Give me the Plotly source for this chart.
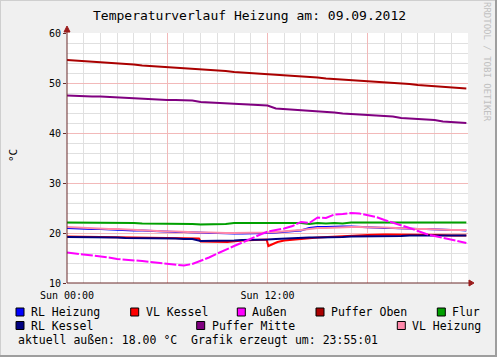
import plotly.graph_objects as go

# ---------------- data ----------------
hours = [0, 0.5, 1, 1.5, 2, 2.5, 3, 3.5, 4, 4.5, 5, 5.5, 6, 6.5, 7, 7.5, 8, 8.5, 9, 9.5,
         10, 10.5, 11, 11.5, 12, 12.5, 13, 13.5, 14, 14.5, 15, 15.5, 16, 16.5, 17, 17.5,
         18, 18.5, 19, 19.5, 20, 20.5, 21, 21.5, 22, 22.5, 23, 23.5, 23.9]

puffer_oben = [54.6, 54.5, 54.4, 54.2, 54.1, 54.0, 53.9, 53.8, 53.7, 53.5, 53.4, 53.3, 53.2, 53.1,
               52.9, 52.8, 52.7, 52.6, 52.5, 52.4, 52.2, 52.1, 52.0, 51.9, 51.8, 51.6, 51.5, 51.4,
               51.3, 51.2, 51.1, 50.9, 50.8, 50.7, 50.6, 50.5, 50.3, 50.2, 50.1, 50.0, 49.9, 49.8,
               49.6, 49.5, 49.4, 49.3, 49.2, 49.0, 48.9]

puffer_mitte = [47.5, 47.4, 47.4, 47.3, 47.3, 47.2, 47.1, 47.1, 47.0, 46.9, 46.8, 46.7, 46.6, 46.6,
                46.5, 46.5, 46.2, 46.1, 46.0, 45.9, 45.9, 45.8, 45.7, 45.6, 45.5, 44.9, 44.8, 44.7,
                44.6, 44.5, 44.4, 44.2, 44.1, 43.9, 43.8, 43.6, 43.5, 43.4, 43.3, 43.3, 43.0, 42.9,
                42.8, 42.7, 42.6, 42.3, 42.2, 42.1, 42.0]

flur = [22.1, 22.1, 22.1, 22.1, 22.1, 22.0, 22.0, 22.0, 22.0, 21.9, 21.9, 21.9, 21.9, 21.9,
        21.8, 21.8, 21.7, 21.7, 21.7, 21.8, 22.0, 22.0, 22.0, 22.0, 22.0, 22.0, 22.0, 21.9,
        22.0, 21.8, 22.0, 21.9, 22.0, 21.9, 22.1, 22.1, 22.1, 22.1, 22.1, 22.1, 22.1, 22.1,
        22.1, 22.1, 22.1, 22.1, 22.1, 22.1, 22.1]

rl_heizung = [21.0, 20.9, 20.9, 20.8, 20.8, 20.7, 20.7, 20.6, 20.5, 20.5, 20.4, 20.4, 20.3, 20.2,
              20.2, 20.1, 20.0, 20.0, 20.0, 19.9, 19.9, 19.9, 19.9, 19.9, 20.0, 20.1, 20.2, 20.3,
              20.5, 21.0, 21.2, 21.2, 21.3, 21.3, 21.3, 21.2, 21.1, 21.1, 21.0, 21.0, 20.9, 20.9,
              20.8, 20.8, 20.7, 20.7, 20.6, 20.6, 20.5]

vl_heizung = [21.2, 21.1, 21.0, 21.0, 20.9, 20.8, 20.8, 20.7, 20.6, 20.6, 20.5, 20.4, 20.3, 20.3,
              20.2, 20.2, 20.1, 20.1, 20.0, 20.0, 20.0, 20.0, 20.0, 20.0, 20.1, 20.2, 20.3, 20.4,
              20.6, 20.8, 21.0, 21.0, 21.1, 21.1, 21.2, 21.2, 21.1, 21.1, 21.1, 21.0, 20.9, 20.9,
              20.8, 20.8, 20.7, 20.7, 20.6, 20.6, 20.6]

rl_kessel = [19.2, 19.2, 19.2, 19.1, 19.1, 19.1, 19.1, 19.0, 19.0, 19.0, 19.0, 18.9, 18.9, 18.9,
             18.8, 18.8, 18.4, 18.4, 18.4, 18.4, 18.5, 18.6, 18.6, 18.7, 18.7, 18.8, 18.9, 19.0,
             19.0, 19.1, 19.1, 19.1, 19.2, 19.2, 19.3, 19.3, 19.3, 19.4, 19.4, 19.4, 19.4, 19.5,
             19.5, 19.5, 19.5, 19.5, 19.5, 19.5, 19.5]

aussen = [16.1, 15.9, 15.7, 15.5, 15.4, 15.1, 14.8, 14.7, 14.6, 14.4, 14.2, 14.0, 13.8, 13.6,
          13.5, 13.8, 14.4, 15.1, 15.9, 16.7, 17.4, 18.1, 18.9, 19.6, 20.3, 20.6, 20.9, 21.4,
          22.2, 22.0, 23.1, 23.0, 23.7, 23.8, 24.0, 23.9, 23.6, 23.2, 22.6, 22.1, 21.6, 21.0,
          20.4, 19.8, 19.4, 19.0, 18.6, 18.2, 18.0]

vl_kessel_hours = [0, 2, 4, 6, 7.9, 8.0, 9.6, 10.5, 11.5, 11.95, 12.05, 12.3, 12.6, 13, 13.5,
                   14, 15, 16, 17, 18, 19, 19.5, 20, 21, 22, 23, 23.9]
vl_kessel = [19.3, 19.2, 19.1, 19.0, 18.9, 18.3, 18.2, 18.5, 18.7, 18.7, 17.4, 17.8, 18.2, 18.5,
             18.7, 18.8, 19.1, 19.3, 19.5, 19.6, 19.7, 19.7, 19.6, 19.6, 19.6, 19.5, 19.5]

title_text = "Temperaturverlauf Heizung am: 09.09.2012"
y_label = "°C"
x_tickvals = [0, 6, 12, 18]
x_ticktext = ["Sun 00:00", "", "Sun 12:00", ""]
footer = "aktuell außen: 18.00 °C  Grafik erzeugt um: 23:55:01"

legend_row1 = ["RL Heizung", "VL Kessel", "Außen", "Puffer Oben", "Flur"]
legend_row2 = ["RL Kessel", "Puffer Mitte", "VL Heizung"]

colors = {
    "RL Heizung": "#0000FF",
    "VL Kessel": "#FF0000",
    "Außen": "#FF00FF",
    "Puffer Oben": "#AA0000",
    "Flur": "#00A000",
    "RL Kessel": "#000080",
    "Puffer Mitte": "#800080",
    "VL Heizung": "#FF88AA",
}

# ---------------- geometry helpers ----------------
W, H = 497, 357
L, R, T, B = 67, 29, 33, 74
PW, PH = W - L - R, H - T - B


def px(x):
    return (x - L) / PW


def py(y):
    return (H - B - y) / PH


FONT = "DejaVu Sans Mono"

fig = go.Figure()

series = [
    ("Puffer Oben", hours, puffer_oben, "solid"),
    ("Puffer Mitte", hours, puffer_mitte, "solid"),
    ("Flur", hours, flur, "solid"),
    ("RL Heizung", hours, rl_heizung, "solid"),
    ("VL Heizung", hours, vl_heizung, "solid"),
    ("VL Kessel", vl_kessel_hours, vl_kessel, "solid"),
    ("RL Kessel", hours, rl_kessel, "solid"),
    ("Außen", hours, aussen, "12px,2px"),
]
for name, xs, ys, dash in series:
    fig.add_trace(go.Scatter(x=xs, y=ys, mode="lines", name=name,
                             line=dict(color=colors[name], width=2, dash=dash),
                             showlegend=False, hoverinfo="skip"))

axis_col = "#6b2b2b"
arrow_col = "#9b1c1c"

fig.update_layout(
    width=W, height=H,
    margin=dict(l=L, r=R, t=T, b=B, pad=0),
    paper_bgcolor="#F0F0F0",
    plot_bgcolor="#FFFFFF",
    font=dict(family=FONT, size=10, color="#000000"),
    showlegend=False,
    xaxis=dict(
        range=[0, 24], tickmode="array", tickvals=x_tickvals, ticktext=x_ticktext,
        showgrid=True, gridcolor="#F2B9B9", gridwidth=1,
        minor=dict(tickmode="linear", tick0=0, dtick=1, showgrid=True,
                   gridcolor="#E0E0E0", gridwidth=1),
        zeroline=False, showline=False, ticks="outside", ticklen=3,
        tickcolor="rgba(0,0,0,0)",
        tickfont=dict(family=FONT, size=10),
        fixedrange=True,
    ),
    yaxis=dict(
        range=[10, 60], tickmode="linear", tick0=10, dtick=10,
        showgrid=True, gridcolor="#F2B9B9", gridwidth=1,
        minor=dict(tickmode="linear", tick0=10, dtick=2, showgrid=True,
                   gridcolor="#E0E0E0", gridwidth=1),
        zeroline=False, showline=False, ticks="outside", ticklen=3,
        tickcolor=axis_col, tickfont=dict(family=FONT, size=10),
        fixedrange=True,
    ),
)

shapes = []
# axis lines
shapes.append(dict(type="line", xref="paper", yref="paper", x0=px(67), x1=px(470), y0=py(283), y1=py(283),
                   line=dict(color=axis_col, width=1)))
shapes.append(dict(type="line", xref="paper", yref="paper", x0=px(67), x1=px(67), y0=py(283), y1=py(30),
                   line=dict(color=axis_col, width=1)))
# arrows
shapes.append(dict(type="path", xref="paper", yref="paper",
                   path=f"M {px(469)} {py(280)} L {px(474)} {py(283)} L {px(469)} {py(286)} Z",
                   fillcolor=arrow_col, line=dict(color=arrow_col, width=1)))
shapes.append(dict(type="path", xref="paper", yref="paper",
                   path=f"M {px(64)} {py(32)} L {px(67)} {py(26)} L {px(70)} {py(32)} Z",
                   fillcolor=arrow_col, line=dict(color=arrow_col, width=1)))
# outer border (shade)
shapes.append(dict(type="rect", xref="paper", yref="paper", x0=px(0), x1=px(1), y0=py(357), y1=py(0),
                   fillcolor="#CFCFCF", line=dict(width=0), layer="below"))
shapes.append(dict(type="rect", xref="paper", yref="paper", x0=px(0), x1=px(497), y0=py(1), y1=py(0),
                   fillcolor="#CFCFCF", line=dict(width=0), layer="below"))
shapes.append(dict(type="rect", xref="paper", yref="paper", x0=px(495), x1=px(497), y0=py(357), y1=py(0),
                   fillcolor="#9E9E9E", line=dict(width=0)))
shapes.append(dict(type="rect", xref="paper", yref="paper", x0=px(0), x1=px(497), y0=py(357), y1=py(355),
                   fillcolor="#9E9E9E", line=dict(width=0)))

annotations = []
annotations.append(dict(text=title_text, xref="paper", yref="paper", x=px(249), y=py(16),
                        xanchor="center", yanchor="middle", showarrow=False,
                        font=dict(family=FONT, size=13, color="#000000")))
annotations.append(dict(text=y_label, xref="paper", yref="paper", x=px(13), y=py(156),
                        xanchor="center", yanchor="middle", showarrow=False, textangle=-90,
                        font=dict(family=FONT, size=11, color="#000000")))
annotations.append(dict(text="RRDTOOL / TOBI OETIKER", xref="paper", yref="paper", x=px(487), y=py(62),
                        xanchor="center", yanchor="middle", showarrow=False, textangle=90,
                        font=dict(family=FONT, size=9, color="#C0C0C0")))

row1_x = [16, 130.7, 237.3, 316, 437.3]
row2_x = [16, 196.7, 397.3]
for names, xs, yc in [(legend_row1, row1_x, 312), (legend_row2, row2_x, 325.5)]:
    for name, sx in zip(names, xs):
        shapes.append(dict(type="rect", xref="paper", yref="paper",
                           x0=px(sx), x1=px(sx + 8), y0=py(yc + 4), y1=py(yc - 4),
                           fillcolor=colors[name], line=dict(color="#000000", width=1)))
        annotations.append(dict(text=name, xref="paper", yref="paper", x=px(sx + 13), y=py(yc),
                                xanchor="left", yanchor="middle", showarrow=False,
                                font=dict(family=FONT, size=11.5, color="#000000")))
annotations.append(dict(text=footer, xref="paper", yref="paper", x=px(15.5), y=py(339.5),
                        xanchor="left", yanchor="middle", showarrow=False,
                        font=dict(family=FONT, size=11.5, color="#000000")))

fig.update_layout(shapes=shapes, annotations=annotations)
fig.write_html("out.html")
